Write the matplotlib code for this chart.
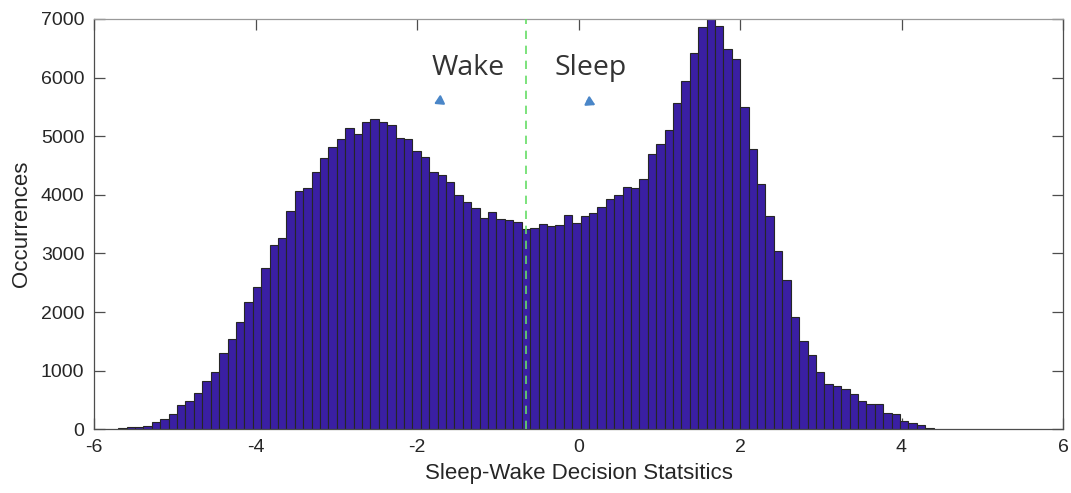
import numpy as np
import matplotlib
matplotlib.use("Agg")
import matplotlib.pyplot as plt

# ---- data ----
bin_start = -5.70
bin_width = 0.1041
counts = [20, 40, 40, 57, 120, 176, 262, 415, 484, 615,
          819, 973, 1297, 1536, 1838, 2168, 2424, 2748, 3147, 3260,
          3727, 4068, 4125, 4387, 4626, 4808, 4956, 5132, 5041, 5240,
          5297, 5240, 5195, 4967, 4945, 4740, 4654, 4397, 4340, 4227,
          4000, 3875, 3767, 3601, 3704, 3584, 3567, 3533, 3425, 3436,
          3505, 3476, 3488, 3653, 3521, 3641, 3687, 3801, 3937, 3994,
          4131, 4114, 4267, 4694, 4871, 5104, 5559, 5946, 6424, 6856,
          7000, 6874, 6487, 6310, 5491, 4780, 4190, 3642, 3038, 2543,
          1912, 1508, 1269, 984, 780, 740, 683, 597, 489, 438,
          438, 273, 256, 148, 114, 80, 28]
threshold = -0.65
x_ticks = [-6, -4, -2, 0, 2, 4, 6]
y_ticks = [0, 1000, 2000, 3000, 4000, 5000, 6000, 7000]
xlabel = "Sleep-Wake Decision Statsitics"
ylabel = "Occurrences"
label_wake = "Wake"
label_sleep = "Sleep"

edges = bin_start + bin_width * np.arange(len(counts) + 1)

fig = plt.figure(figsize=(10.71, 4.93), dpi=100)
ax = fig.add_axes([94 / 1071, 1 - 429.3 / 493, (1063 - 94) / 1071, (429.3 - 19) / 493])

ax.bar(edges[:-1], counts, width=bin_width, align="edge",
       color="#3A1FA3", edgecolor="#262626", linewidth=0.8, zorder=2)
ax.axvline(threshold, color="#66DD66", linestyle=(0, (5, 4)), linewidth=1.2, zorder=3)

ax.set_xlim(-6, 6)
ax.set_ylim(0, 7000)
ax.set_xticks(x_ticks)
ax.set_yticks(y_ticks)
ax.set_xticklabels([str(t) for t in x_ticks])
ax.set_yticklabels([str(t) for t in y_ticks])

for s in ax.spines.values():
    s.set_color("#4d4d4d")
    s.set_linewidth(0.9)
ax.spines["top"].set_color("#999999")

ax.tick_params(direction="in", length=8, width=0.9, color="#4d4d4d",
               top=True, right=True, labelsize=14, labelcolor="#262626", pad=7)
for lab in ax.get_xticklabels() + ax.get_yticklabels():
    lab.set_family("Liberation Sans")

ax.set_xlabel(xlabel, fontsize=16, family="Liberation Sans", color="#262626", labelpad=5)
ax.set_ylabel(ylabel, fontsize=16, family="Liberation Sans", color="#262626", labelpad=6)

# annotations
ax.text(-1.37, 6165, label_wake, fontsize=20.5, family="Open Sans", color="#333333",
        ha="center", va="center")
ax.text(0.155, 6165, label_sleep, fontsize=20.5, family="Open Sans", color="#333333",
        ha="center", va="center")
ax.annotate("", xy=(-1.82, 5530), xytext=(-1.70, 5610),
            arrowprops=dict(arrowstyle="-|>,head_length=0.5,head_width=0.3",
                            color="#4a86c8", lw=1.5))
ax.annotate("", xy=(0.24, 5510), xytext=(0.08, 5620),
            arrowprops=dict(arrowstyle="-|>,head_length=0.5,head_width=0.3",
                            color="#4a86c8", lw=1.5))

fig.savefig("out.png", dpi=100)
